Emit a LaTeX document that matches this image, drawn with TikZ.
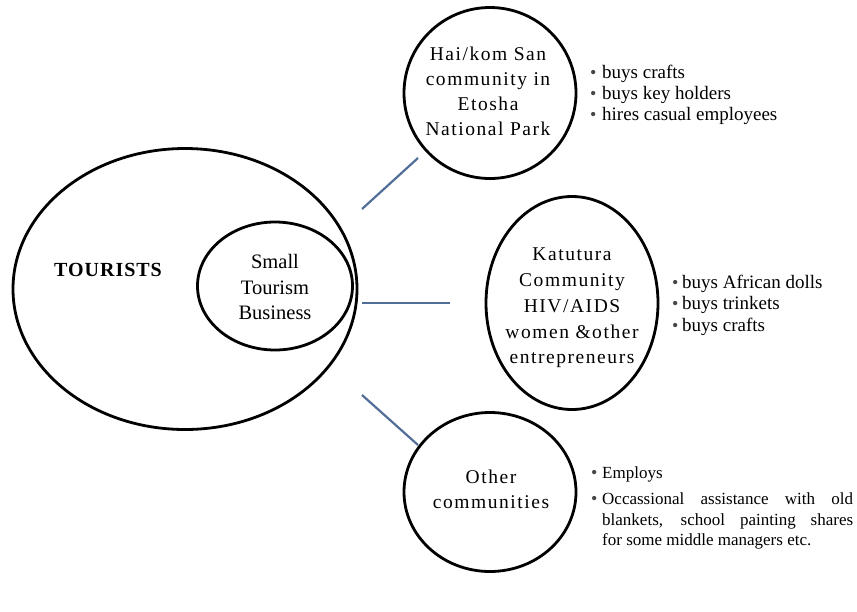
\documentclass[tikz,border=0pt]{standalone}
\usepackage{fontspec}
\setmainfont{Liberation Serif}
\newfontfamily\spacedfont[LetterSpace=8]{Liberation Serif}
\usepackage{tikz}
\usetikzlibrary{shapes.geometric}
\definecolor{linkblue}{RGB}{82,110,152}
\definecolor{dotgray}{RGB}{70,70,70}
\newcommand{\itm}[1][11pt]{\makebox[#1][l]{\color{dotgray}\fontsize{18}{18}\selectfont\textbullet}}

\tikzset{
  bubble/.style={ellipse,draw,line width=2.8pt,inner sep=0pt},
  circtxt/.style={align=center,inner sep=0pt,font=\spacedfont\fontsize{19.5}{25}\selectfont},
  listtxt/.style={align=left,inner sep=0pt,font=\fontsize{19}{21}\selectfont},
  link/.style={draw=linkblue,line width=2.2pt}
}

\begin{document}
\begin{tikzpicture}[x=1pt,y=-1pt]
\useasboundingbox (0,0) rectangle (857,611);

\node[bubble,minimum width=344pt,minimum height=281pt] (tour) at (185,289){};
\node[bubble,minimum width=155pt,minimum height=128pt] (stb) at (275,286){};
\node[bubble,minimum width=172pt,minimum height=171pt] (hai) at (490,93){};
\node[bubble,minimum width=172pt,minimum height=213pt] (kat) at (572,303){};
\node[bubble,minimum width=172pt,minimum height=159pt] (oth) at (490,492){};

\node[inner sep=0pt,font=\spacedfont\fontsize{20}{24}\bfseries\addfontfeature{LetterSpace=5}] (tourTxt) at (108,270){TOURISTS};
\node[align=center,inner sep=0pt,font=\fontsize{20.5}{25.5}\selectfont] (stbTxt) at (275,287){Small\\Tourism\\Business};
\node[circtxt] (haiTxt) at (488,91){Hai/kom San\\community in\\Etosha\\National Park};
\node[circtxt,font=\spacedfont\fontsize{19.5}{25.7}\selectfont] (katTxt) at (572,308){Katutura\\Community\\HIV/AIDS\\women \&other\\entrepreneurs};
\node[circtxt] (othTxt) at (491,489){Other\\communities};

\coordinate (a1) at (362,209);
\coordinate (b1) at (418,158);
\coordinate (a2) at (362,303);
\coordinate (b2) at (450,303);
\coordinate (a3) at (362,395);
\coordinate (b3) at (418,445);
\draw[link] (a1) -- (b1);
\draw[link] (a2) -- (b2);
\draw[link] (a3) -- (b3);

\node[listtxt,anchor=west] (haiList) at (590,95){\itm[12pt]buys crafts\\\itm[12pt]buys key holders\\\itm[12pt]hires casual employees};
\node[listtxt,anchor=west,font=\fontsize{19}{21.5}\selectfont] (katList) at (672,305){\itm[10pt]buys African dolls\\\itm[10pt]buys trinkets\\\itm[10pt]buys crafts};
\node[inner sep=0pt,anchor=north west,text width=262pt,align=justify,font=\fontsize{17}{20.5}\selectfont] (othList) at (591,466){\hangindent=11pt\hangafter=1\itm Employs\par\vspace{6pt}\hangindent=11pt\hangafter=1\itm Occassional assistance with old\linebreak blankets, school painting shares\linebreak for some middle managers etc.\par};

\end{tikzpicture}
\end{document}
